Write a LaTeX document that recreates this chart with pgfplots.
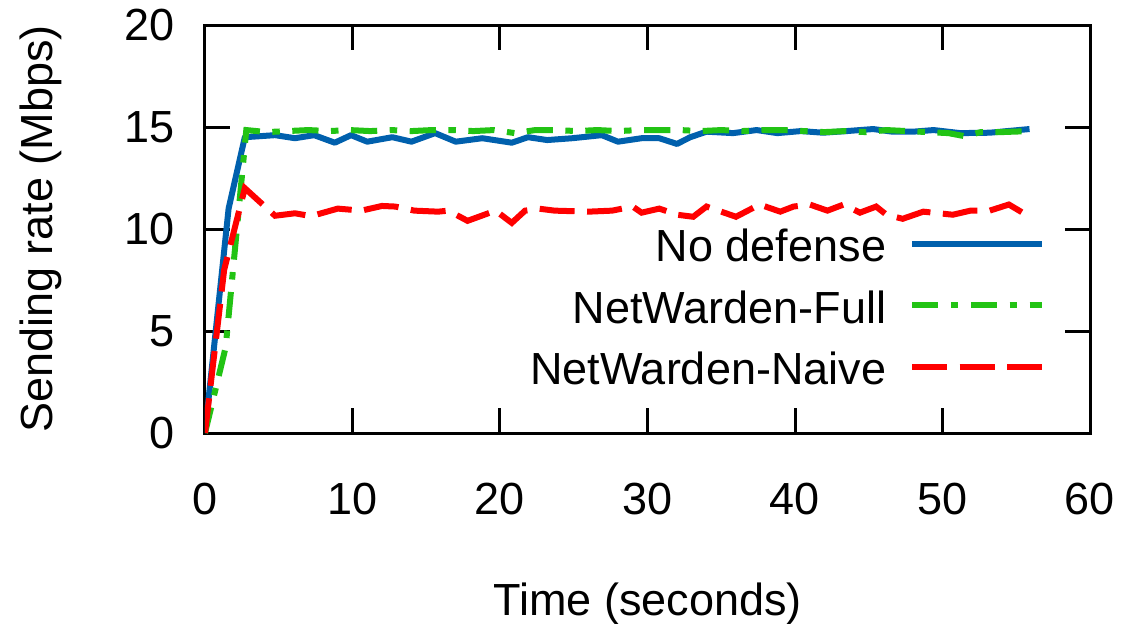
\documentclass[border=0pt]{standalone}
\usepackage{pgfplots}
\pgfplotsset{compat=1.18}
\usepackage{fontspec}
\setmainfont{Liberation Sans}
\definecolor{cblue}{RGB}{0,96,173}
\definecolor{cgreen}{RGB}{34,195,20}
\definecolor{cred}{RGB}{255,0,0}
\begin{document}
\fontsize{18pt}{21.6pt}\selectfont
\begin{tikzpicture}
\path[use as bounding box] (0,0) rectangle (450pt,249.2pt);
\begin{axis}[
  at={(82pt,76pt)}, anchor=south west,
  scale only axis, width=354pt, height=163.2pt,
  xmin=0, xmax=60, ymin=0, ymax=20,
  xtick={0,10,...,60}, ytick={0,5,...,20},
  /pgf/number format/assume math mode=true,
  tick align=inside, major tick length=10pt,
  axis line style={line width=1.2pt},
  every tick/.style={black, line width=1.2pt},
  tick label style={font=\fontsize{18pt}{21.6pt}\selectfont},
  label style={font=\fontsize{18pt}{21.6pt}\selectfont},
  yticklabel style={xshift=-6pt},
  xticklabel style={yshift=-14pt},
  xlabel={Time (seconds)},
  ylabel={Sending rate (Mbps)},
  xlabel style={at={(axis description cs:0.5,-0.4485)}, anchor=base},
  ylabel style={at={(axis description cs:-0.1718,0.5)}, anchor=base, rotate=0},
  legend plot pos=right,
  legend cell align=right,
  legend image code/.code={\draw[#1] (0pt,0.7pt) -- (52pt,0.7pt);},
  legend style={draw=none, fill=none, at={(axis cs:57.5,6.18)}, anchor=east,
    font=\fontsize{18pt}{21.6pt}\selectfont,
    nodes={inner sep=0pt, text height=12.9pt, text depth=0pt},
    row sep=11.7pt, column sep=9.2pt},
]
\addplot[cblue, line width=2.4pt, line join=round] coordinates {
(0,0) (1.6,11.0) (2.7,14.5) (4.75,14.6) (6.1,14.45) (7.4,14.6) (8.8,14.23) (9.9,14.6) (11.0,14.28) (12.7,14.5) (14.0,14.28) (15.6,14.7) (17.0,14.28) (18.8,14.45) (20.8,14.23) (21.9,14.5) (23.2,14.36) (24.9,14.45) (26.9,14.6) (28.0,14.28) (29.6,14.45) (30.8,14.45) (32.0,14.17) (32.9,14.5) (34.0,14.77) (35.8,14.7) (37.4,14.85) (38.8,14.7) (40.4,14.8) (41.9,14.72) (43.5,14.8) (45.3,14.9) (46.6,14.77) (48.0,14.77) (49.4,14.85) (51.2,14.7) (53.2,14.72) (55.9,14.9)
};
\addlegendentry{No defense}
\addplot[cgreen, line width=2.4pt, dash pattern=on 10.5pt off 5pt on 3pt off 5pt] coordinates {
(0,0) (1.4,4.2) (2.8,14.85) (4.2,14.75) (5.6,14.8) (7,14.85) (8.4,14.8) (9.8,14.85) (11.2,14.8) (12.6,14.85) (14,14.8) (15.4,14.85) (16.8,14.85) (18.2,14.8) (19.6,14.85) (21,14.7) (22.4,14.85) (23.8,14.85) (25.2,14.8) (26.6,14.85) (28,14.8) (29.4,14.85) (30.8,14.85) (32.2,14.85) (33.6,14.8) (35,14.85) (36.4,14.8) (37.8,14.85) (39.2,14.85) (40.6,14.8) (42,14.75) (43.4,14.8) (44.8,14.75) (46.2,14.85) (47.6,14.8) (49,14.75) (50.4,14.7) (51.5,14.55) (52.6,14.75) (54,14.75) (55.9,14.8)
};
\addlegendentry{NetWarden-Full}
\addplot[cred, line width=2.4pt, dash pattern=on 14pt off 5pt] coordinates {
(0,0) (1.3,8.0) (2.7,12.0) (4.75,10.65) (6.1,10.77) (7.2,10.63) (9.0,11.0) (10.6,10.9) (12.0,11.13) (12.9,11.1) (14.2,10.9) (15.8,10.85) (16.5,10.9) (17.8,10.4) (19.7,10.9) (20.8,10.3) (21.7,10.9) (22.6,11.0) (23.7,10.9) (26.0,10.85) (27.6,10.9) (29.0,11.1) (29.6,10.8) (30.8,11.0) (32.0,10.7) (33.1,10.6) (34.0,11.1) (36.0,10.6) (37.6,11.2) (39.0,10.85) (39.9,11.1) (41.0,11.2) (42.2,10.9) (43.3,11.2) (44.4,10.8) (45.5,11.1) (46.2,10.7) (47.3,10.5) (48.7,10.85) (50.7,10.7) (51.9,10.9) (53.2,10.9) (54.5,11.2) (55.9,10.6)
};
\addlegendentry{NetWarden-Naive}
\end{axis}
\end{tikzpicture}
\end{document}
